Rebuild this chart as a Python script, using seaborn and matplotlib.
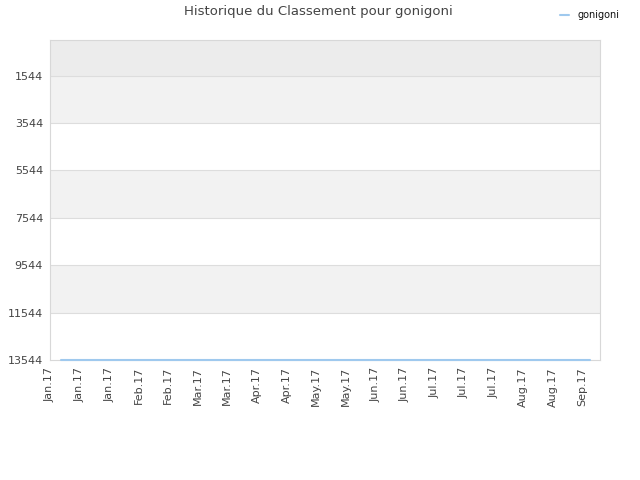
import matplotlib
matplotlib.use("Agg")
import matplotlib.pyplot as plt
import seaborn as sns
import pandas as pd

# données
joueur = "gonigoni"
dates = ["2017-01-06", "2017-03-01", "2017-05-01", "2017-07-01", "2017-09-14"]
classement = [13544, 13544, 13544, 13544, 13544]
ticks_y = [1544, 3544, 5544, 7544, 9544, 11544, 13544]
ticks_x = pd.date_range("2017-01-01", periods=19, freq="14D")
labels_x = [d.strftime("%b.%y") for d in ticks_x]

df = pd.DataFrame({"date": pd.to_datetime(dates), "rang": classement})

sns.set_style("white")
plt.rcParams['font.family'] = ['DejaVu Sans']

fig = plt.figure(figsize=(6.4, 4.8), dpi=100)
ax = fig.add_axes([50 / 640, 1 - 360 / 480, 550 / 640, 320 / 480])

# bandes alternées
bornes = [44] + ticks_y
couleurs = ["#ececec", "#f2f2f2", "white", "#f2f2f2", "white", "#f2f2f2", "white"]
for i in range(len(bornes) - 1):
    ax.axhspan(bornes[i], bornes[i + 1], color=couleurs[i], zorder=0, lw=0)
for t in ticks_y[:-1]:
    ax.axhline(t, color="#dddddd", lw=0.8, zorder=1)

sns.lineplot(data=df, x="date", y="rang", ax=ax, color="#9fc9ee", lw=1.5,
             label=joueur, zorder=4)
ax.get_lines()[-1].set_clip_on(False)

ax.set_xlim(pd.Timestamp("2017-01-01"), pd.Timestamp("2017-01-01") + pd.Timedelta(days=260.5))
ax.set_ylim(13544, 44)
ax.set_yticks(ticks_y)
ax.set_yticklabels([str(t) for t in ticks_y], fontsize=8, color="#444444")
ax.set_xticks(ticks_x)
ax.set_xticklabels(labels_x, rotation=90, fontsize=8, color="#444444")
ax.tick_params(length=0, pad=5)
ax.set_xlabel("")
ax.set_ylabel("")
for s in ax.spines.values():
    s.set_color("#d8d8d8")
    s.set_linewidth(0.8)

fig.text(318 / 640, 1 - 12 / 480, "Historique du Classement pour " + joueur,
         ha="center", va="center", fontsize=9.5, color="#444444")
ax.get_legend().remove()
fig.legend(handles=ax.get_lines()[-1:], labels=[joueur], loc="center right",
           bbox_to_anchor=(628 / 640, 1 - 15 / 480), frameon=False, fontsize=7,
           handlelength=1.0, handletextpad=0.8, labelcolor="#111111")

fig.savefig("out.png", dpi=100)
